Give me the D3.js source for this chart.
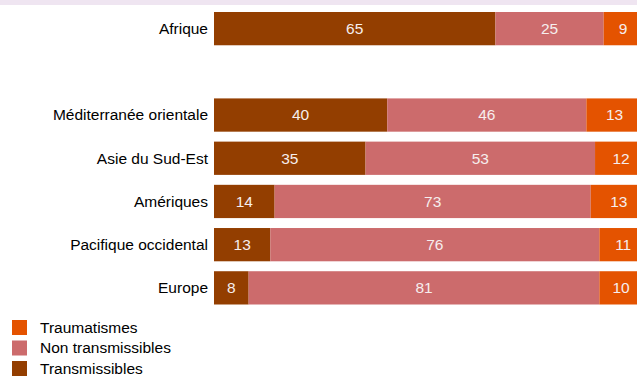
<!DOCTYPE html>
<html><head><meta charset="utf-8">
<script src="https://cdn.jsdelivr.net/npm/d3@7"></script>
<style>body{margin:0;background:#fff;}svg{display:block;font-family:"Liberation Sans",Arial,sans-serif;}</style>
</head><body><svg id="c" width="637" height="376"></svg>
<script>
const regions = ["Afrique", "", "Méditerranée orientale", "Asie du Sud-Est", "Amériques", "Pacifique occidental", "Europe"];
const transmissibles = [65, null, 40, 35, 14, 13, 8];
const nonTransmissibles = [25, null, 46, 53, 73, 76, 81];
const traumatismes = [9, null, 13, 12, 13, 11, 10];
const seriesNames = ["Transmissibles", "Non transmissibles", "Traumatismes"];
const colors = ["#933e00", "#cc6b6c", "#e45300"];

const svg = d3.select("#c");
svg.append("rect").attr("x", 0).attr("y", 0).attr("width", 637).attr("height", 5).attr("fill", "#efe5f1");

const x = d3.scaleLinear().domain([0, 100]).range([214, 647]);
const y = d3.scaleBand().domain(regions.map((r, i) => i)).range([12, 304.5]).paddingInner(0.23).paddingOuter(0);

const rows = regions.map((r, i) => ({region: r, vals: [transmissibles[i], nonTransmissibles[i], traumatismes[i]]}));

rows.forEach((row, i) => {
  if (row.vals[0] == null) return;
  let acc = 0;
  row.vals.forEach((v, k) => {
    const x0 = x(acc), x1 = x(acc + v);
    svg.append("rect").attr("x", x0).attr("y", y(i)).attr("width", x1 - x0).attr("height", y.bandwidth()).attr("fill", colors[k]);
    svg.append("text").attr("x", (x0 + x1) / 2).attr("y", y(i) + y.bandwidth() / 2).attr("dy", "0.35em")
      .attr("text-anchor", "middle").attr("fill", "#f6eeee").attr("font-size", 15.5).text(v);
    acc += v;
  });
  svg.append("text").attr("x", 208).attr("y", y(i) + y.bandwidth() / 2).attr("dy", "0.35em")
    .attr("text-anchor", "end").attr("fill", "#000").attr("font-size", 15.5).text(row.region);
});

const legendOrder = [2, 1, 0];
legendOrder.forEach((k, j) => {
  const ly = 320 + j * 20.5;
  svg.append("rect").attr("x", 12).attr("y", ly).attr("width", 15).attr("height", 15).attr("fill", colors[k]);
  svg.append("text").attr("x", 40).attr("y", ly + 7.5).attr("dy", "0.35em").attr("font-size", 15.5).attr("fill", "#000").text(seriesNames[k]);
});
</script></body></html>
